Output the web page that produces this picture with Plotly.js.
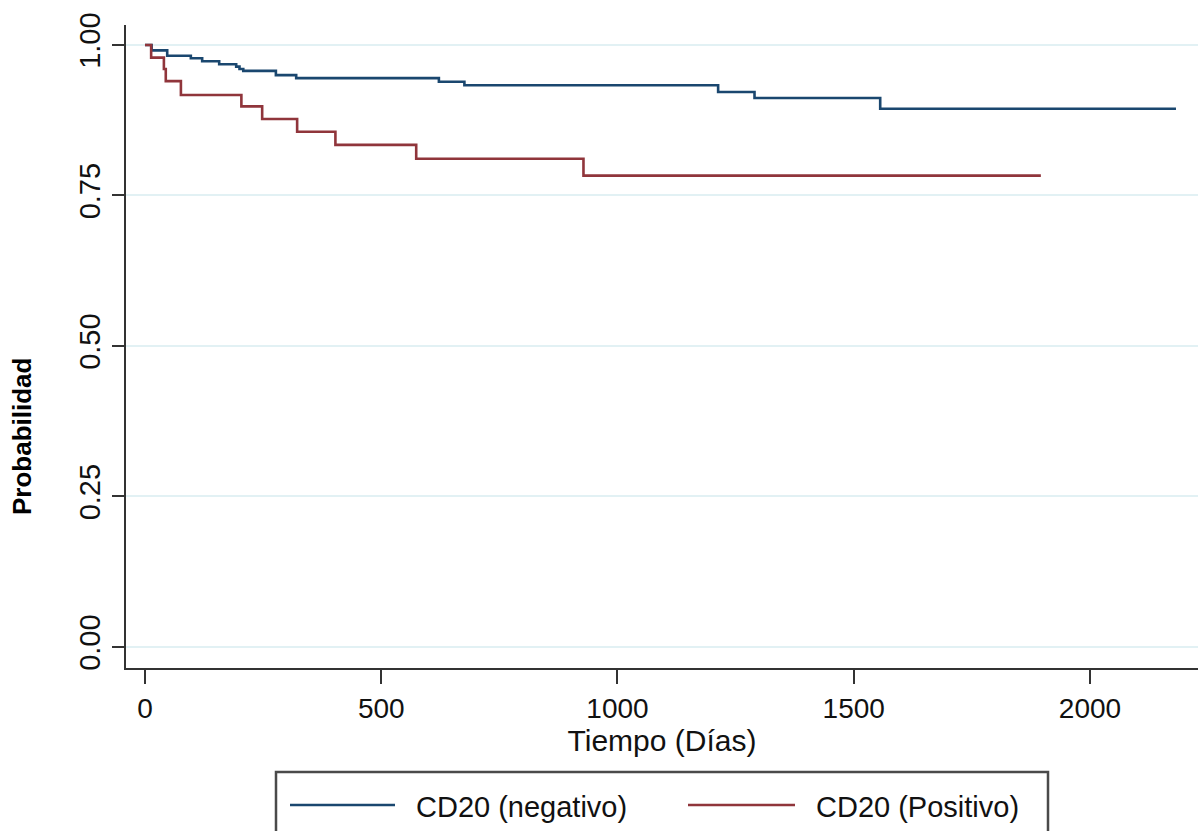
<!DOCTYPE html>
<html>
<head>
<meta charset="utf-8">
<script src="https://cdn.plot.ly/plotly-3.0.1.min.js"></script>
<style>
html,body{margin:0;padding:0;background:#fff;}
#chart{width:1198px;height:831px;}
</style>
</head>
<body>
<div id="chart"></div>
<script>
// Kaplan-Meier estimates
const seriesNames = ["CD20 (negativo)", "CD20 (Positivo)"];

const negTime = [0, 14, 47, 97, 121, 157, 193, 200, 208, 277, 320, 622, 676, 1213, 1290, 1556, 2182];
const negSurv = [1.000, 0.991, 0.982, 0.978, 0.973, 0.968, 0.964, 0.960, 0.957, 0.950, 0.945, 0.939, 0.933, 0.922, 0.912, 0.894, 0.894];

const posTime = [0, 13, 40, 44, 76, 204, 248, 322, 403, 574, 928, 1896];
const posSurv = [1.000, 0.979, 0.960, 0.940, 0.917, 0.898, 0.877, 0.856, 0.834, 0.811, 0.783, 0.783];

const xTicks = [0, 500, 1000, 1500, 2000];
const yTicks = [0, 0.25, 0.5, 0.75, 1];
const yTickText = ["0.00", "0.25", "0.50", "0.75", "1.00"];

const xTitle = "Tiempo (Días)";
const yTitle = "Probabilidad";

const colors = ["#1a476f", "#90353b"];
const FONT = "Liberation Sans, Arial, Helvetica, sans-serif";

const traces = [
  {x: negTime, y: negSurv, name: seriesNames[0], type: "scatter", mode: "lines",
   line: {shape: "hv", color: colors[0], width: 2.6}, showlegend: false},
  {x: posTime, y: posSurv, name: seriesNames[1], type: "scatter", mode: "lines",
   line: {shape: "hv", color: colors[1], width: 2.6}, showlegend: false}
];

// Plot-area geometry (paper units) for a manual legend box and y title
const L = 126, R = 0, T = 25, B = 163, W = 1198, H = 831;
const pw = W - L - R, ph = H - T - B;
const px = v => (v - L) / pw;
const py = v => (H - B - v) / ph;

const legY = 805;
const shapes = [
  {type: "rect", xref: "paper", yref: "paper", x0: px(276), x1: px(1048), y0: py(900), y1: py(772),
   line: {color: "#4a4a4a", width: 2.5}, fillcolor: "rgba(0,0,0,0)"},
  {type: "line", xref: "paper", yref: "paper", x0: px(290), x1: px(395), y0: py(legY), y1: py(legY),
   line: {color: colors[0], width: 2.6}},
  {type: "line", xref: "paper", yref: "paper", x0: px(688), x1: px(795), y0: py(legY), y1: py(legY),
   line: {color: colors[1], width: 2.6}}
];
const annotations = [
  {xref: "paper", yref: "paper", x: px(414), y: py(legY + 2), xanchor: "left", yanchor: "middle",
   text: seriesNames[0], showarrow: false, font: {family: FONT, size: 29, color: "#111"}},
  {xref: "paper", yref: "paper", x: px(814), y: py(legY + 2), xanchor: "left", yanchor: "middle",
   text: seriesNames[1], showarrow: false, font: {family: FONT, size: 29, color: "#111"}},
  {xref: "paper", yref: "paper", x: px(22), y: py(437), xanchor: "center", yanchor: "middle",
   textangle: -90, text: "<b>" + yTitle + "</b>", showarrow: false,
   font: {family: FONT, size: 26, color: "#000"}}
];

const layout = {
  width: W, height: H,
  margin: {l: L, r: R, t: T, b: B, pad: 0},
  paper_bgcolor: "#ffffff", plot_bgcolor: "#ffffff",
  font: {family: FONT, color: "#111"},
  showlegend: false,
  xaxis: {
    range: [-40.2, 2228.6], tickmode: "array", tickvals: xTicks,
    ticks: "outside", ticklen: 14, tickwidth: 2, tickcolor: "#333",
    showline: true, linecolor: "#333", linewidth: 2,
    showgrid: false, zeroline: false,
    tickfont: {family: FONT, size: 28, color: "#111"},
    title: {text: xTitle, font: {family: FONT, size: 30, color: "#111"}, standoff: 2},
    automargin: false
  },
  yaxis: {
    range: [-0.0349, 1.0332], tickmode: "array", tickvals: yTicks, ticktext: yTickText,
    ticks: "outside", ticklen: 12, tickwidth: 2, tickcolor: "#333",
    showline: true, linecolor: "#333", linewidth: 2,
    showgrid: true, gridcolor: "#e2f1f4", gridwidth: 2, zeroline: false,
    tickangle: -90,
    tickfont: {family: FONT, size: 29, color: "#111"},
    automargin: false
  },
  shapes: shapes,
  annotations: annotations
};

Plotly.newPlot("chart", traces, layout, {displayModeBar: false, staticPlot: true});
</script>
</body>
</html>
